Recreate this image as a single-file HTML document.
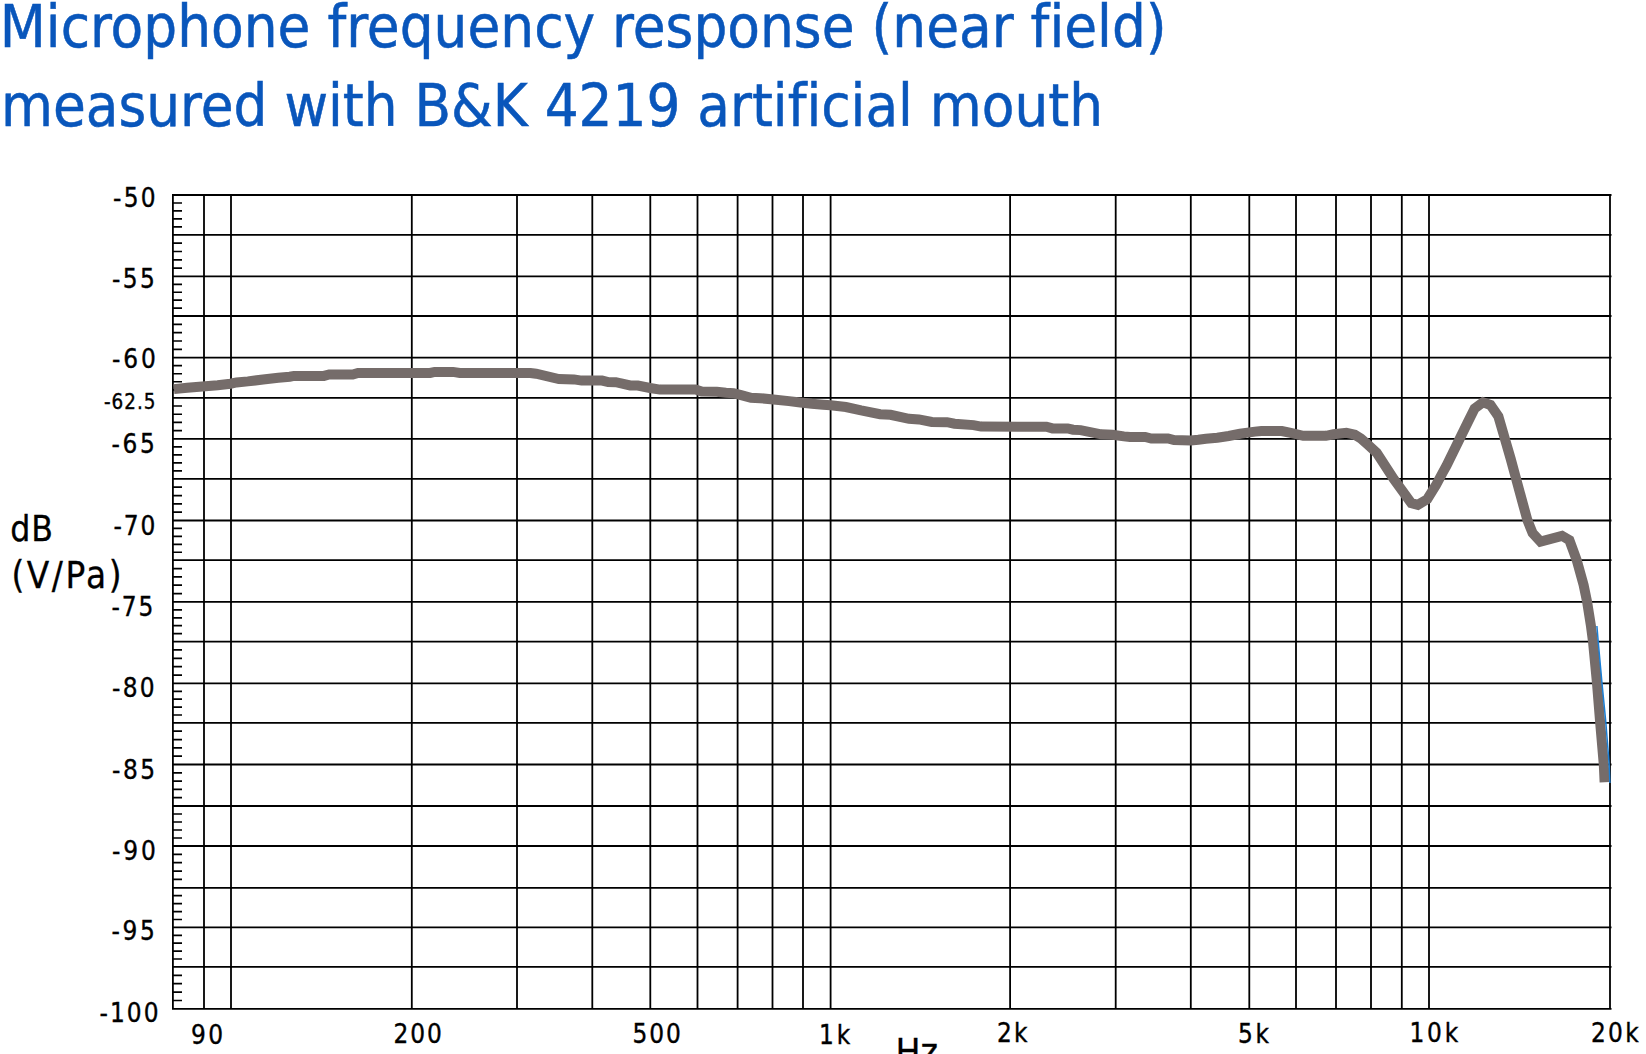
<!DOCTYPE html>
<html><head><meta charset="utf-8"><title>Microphone frequency response</title>
<style>
html,body{margin:0;padding:0;background:#fff;width:1646px;height:1054px;overflow:hidden}
svg{display:block;position:absolute;left:0;top:0}
.t{font-family:"DejaVu Sans Condensed","DejaVu Sans","Liberation Sans",sans-serif;fill:#0956bb;stroke:#0956bb;stroke-width:0.5px;font-variant-ligatures:none}
.yl{font-family:"DejaVu Sans Condensed","DejaVu Sans",sans-serif;fill:#000;stroke:#000;stroke-width:0.35px}
.ax{font-family:"DejaVu Sans Condensed","DejaVu Sans",sans-serif;fill:#000;stroke:#000;stroke-width:0.3px}
</style></head><body>
<svg width="1646" height="1054" viewBox="0 0 1646 1054">
<text class="t" x="-0.3" y="47" font-size="59" textLength="1167" lengthAdjust="spacingAndGlyphs">Microphone frequency response (near field)</text>
<text class="t" x="1" y="125.5" font-size="59" textLength="1102" lengthAdjust="spacingAndGlyphs">measured with B&amp;K 4219 artificial mouth</text>
<path d="M172 195H1611.5M172 234.9H1611.5M172 276.4H1611.5M172 316H1611.5M172 357.7H1611.5M172 397.8H1611.5M172 438.9H1611.5M172 478.9H1611.5M172 520.5H1611.5M172 560.2H1611.5M172 601.9H1611.5M172 641.6H1611.5M172 683.4H1611.5M172 722.9H1611.5M172 764.5H1611.5M172 806H1611.5M172 846H1611.5M172 887.8H1611.5M172 927.4H1611.5M172 966.9H1611.5M172 1008.9H1611.5M172.9 194.1V1009.8M204 194.1V1009.8M231 194.1V1009.8M411.8 194.1V1009.8M517 194.1V1009.8M592.3 194.1V1009.8M650.3 194.1V1009.8M697.5 194.1V1009.8M737.6 194.1V1009.8M772.5 194.1V1009.8M803 194.1V1009.8M830.6 194.1V1009.8M1010.1 194.1V1009.8M1115.7 194.1V1009.8M1190.8 194.1V1009.8M1249.3 194.1V1009.8M1296 194.1V1009.8M1336 194.1V1009.8M1371 194.1V1009.8M1401.8 194.1V1009.8M1429 194.1V1009.8M1610 194.1V1009.8" stroke="#000" stroke-width="1.8" fill="none"/>
<path d="M173 202.98H182M173 210.96H182M173 218.94H182M173 226.92H182M173 243.2H182M173 251.5H182M173 259.8H182M173 268.1H182M173 284.32H182M173 292.24H182M173 300.16H182M173 308.08H182M173 324.34H182M173 332.68H182M173 341.02H182M173 349.36H182M173 365.72H182M173 373.74H182M173 381.76H182M173 389.78H182M173 406.02H182M173 414.24H182M173 422.46H182M173 430.68H182M173 446.9H182M173 454.9H182M173 462.9H182M173 470.9H182M173 487.22H182M173 495.54H182M173 503.86H182M173 512.18H182M173 528.44H182M173 536.38H182M173 544.32H182M173 552.26H182M173 568.54H182M173 576.88H182M173 585.22H182M173 593.56H182M173 609.84H182M173 617.78H182M173 625.72H182M173 633.66H182M173 649.96H182M173 658.32H182M173 666.68H182M173 675.04H182M173 691.3H182M173 699.2H182M173 707.1H182M173 715H182M173 731.22H182M173 739.54H182M173 747.86H182M173 756.18H182M173 772.8H182M173 781.1H182M173 789.4H182M173 797.7H182M173 814H182M173 822H182M173 830H182M173 838H182M173 854.36H182M173 862.72H182M173 871.08H182M173 879.44H182M173 895.72H182M173 903.64H182M173 911.56H182M173 919.48H182M173 935.3H182M173 943.2H182M173 951.1H182M173 959H182M173 975.3H182M173 983.7H182M173 992.1H182M173 1000.5H182" stroke="#000" stroke-width="1.7" fill="none"/>
<text class="yl" x="113" y="207" font-size="25.9" textLength="42.65" lengthAdjust="spacing">-50</text>
<text class="yl" x="112" y="287.5" font-size="25.9" textLength="42.85" lengthAdjust="spacing">-55</text>
<text class="yl" x="112" y="367.5" font-size="25.9" textLength="43.85" lengthAdjust="spacing">-60</text>
<text class="yl" x="104" y="408.5" font-size="20.4" textLength="51.45" lengthAdjust="spacing">-62.5</text>
<text class="yl" x="111.5" y="453" font-size="25.9" textLength="43.45" lengthAdjust="spacing">-65</text>
<text class="yl" x="113.5" y="535" font-size="25.9" textLength="41.85" lengthAdjust="spacing">-70</text>
<text class="yl" x="111.5" y="615.5" font-size="25.9" textLength="41.85" lengthAdjust="spacing">-75</text>
<text class="yl" x="112" y="697" font-size="25.9" textLength="42.65" lengthAdjust="spacing">-80</text>
<text class="yl" x="112" y="778.5" font-size="25.9" textLength="43.05" lengthAdjust="spacing">-85</text>
<text class="yl" x="112" y="859.5" font-size="25.9" textLength="43.85" lengthAdjust="spacing">-90</text>
<text class="yl" x="111.5" y="939.5" font-size="25.9" textLength="43.45" lengthAdjust="spacing">-95</text>
<text class="yl" x="99.5" y="1022" font-size="25.9" textLength="59.06" lengthAdjust="spacing">-100</text>
<text class="yl" x="191" y="1043.5" font-size="25.9" textLength="32.04" lengthAdjust="spacing">90</text>
<text class="yl" x="393.5" y="1042.5" font-size="25.9" textLength="48.25" lengthAdjust="spacing">200</text>
<text class="yl" x="632.5" y="1042.5" font-size="25.9" textLength="48.25" lengthAdjust="spacing">500</text>
<text class="yl" x="819" y="1043.5" font-size="25.9" textLength="31.31" lengthAdjust="spacing">1k</text>
<text class="yl" x="997" y="1041.5" font-size="25.9" textLength="30.51" lengthAdjust="spacing">2k</text>
<text class="yl" x="1238" y="1042.5" font-size="25.9" textLength="30.91" lengthAdjust="spacing">5k</text>
<text class="yl" x="1409.5" y="1042" font-size="25.9" textLength="48.72" lengthAdjust="spacing">10k</text>
<text class="yl" x="1591" y="1042" font-size="25.9" textLength="47.73" lengthAdjust="spacing">20k</text>
<text class="ax" x="895.5" y="1065.01" font-size="37.0" textLength="42.52" lengthAdjust="spacing">Hz</text>
<text class="ax" x="10.25" y="540.5" font-size="35.2" textLength="42.83" lengthAdjust="spacing">dB</text>
<text class="ax" x="11.5" y="588" font-size="36.5" textLength="110.04" lengthAdjust="spacing">(V/Pa)</text>
<path d="M173.9 389.1 L187.2 387.7 L202.4 386.4 L217.6 385.2 L230.5 383.7 L236.5 382.4 L247.9 381.4 L263.1 379.5 L278.3 377.8 L289.7 376.7 L294 375.9 L323.9 375.9 L329.2 374.5 L352.7 374.5 L358 372.95 L430.2 372.95 L434.7 371.9 L453 371.9 L459.8 372.95 L530.4 372.95 L536.1 373.7 L558.9 379 L574 379.4 L581.6 380.6 L602.1 380.6 L608.2 382 L615.8 382.2 L630.2 385.4 L637.8 385.6 L650 388 L659.9 389.6 L695.6 389.6 L701.6 391.5 L716.8 391.7 L725.9 392.8 L733.5 393.2 L741.1 395.1 L751 397.8 L760.1 398.2 L771 399.3 L789 401.1 L800.4 402.5 L811.8 403.8 L823.2 404.7 L830.7 405.3 L845.9 407 L861.1 410.4 L880.1 414.2 L890.5 414.8 L909 418.8 L918.9 419.4 L931.8 422 L947 422.2 L954.5 423.7 L973.5 425.1 L981.1 426.6 L1046.4 426.7 L1052.5 428.4 L1067.7 428.4 L1073 429.7 L1080.6 430.1 L1101.1 434.3 L1112.5 434.8 L1123.9 436.4 L1130 437 L1145.2 437 L1151.3 438.5 L1168 438.5 L1174 440.1 L1190.7 440.4 L1198.3 439.7 L1205.9 438.7 L1217.3 437.8 L1228.7 436 L1240.1 433.8 L1247.7 432.6 L1255 431.6 L1261.4 431 L1281.9 431 L1291.8 433.2 L1303.2 435.8 L1325.9 435.8 L1333.5 434.3 L1346.4 432.9 L1354.8 434.7 L1360.9 438.5 L1367.7 444.5 L1376.7 452.7 L1393.7 478.9 L1411.3 503.1 L1417.8 504.9 L1427.3 499.2 L1436 485 L1443 472 L1446.5 465.6 L1459.7 438.8 L1468.9 420 L1474.6 408.5 L1483 402.3 L1490.5 405 L1498.4 416.5 L1504.9 438.9 L1510.6 458.5 L1516.1 478.8 L1523.2 504.9 L1527.5 520.5 L1532.6 533.1 L1540.5 541.6 L1562 535.8 L1569.4 540.2 L1576.75 560.2 L1583.6 585 L1587.1 601.8 L1590.8 624.9 L1593 641.5 L1597 683.3 L1600.2 723 L1603.8 764.7 L1604.6 782.2" stroke="#756c6a" stroke-width="10" fill="none" stroke-linejoin="miter" stroke-miterlimit="4" stroke-linecap="butt"/>
<path d="M1596.9 626 L1598.2 641.5 L1602 683.3 L1605.8 722 L1609.2 764.7 L1609.9 783" stroke="#1a7fd6" stroke-width="1.5" fill="none"/>
</svg>
</body></html>
